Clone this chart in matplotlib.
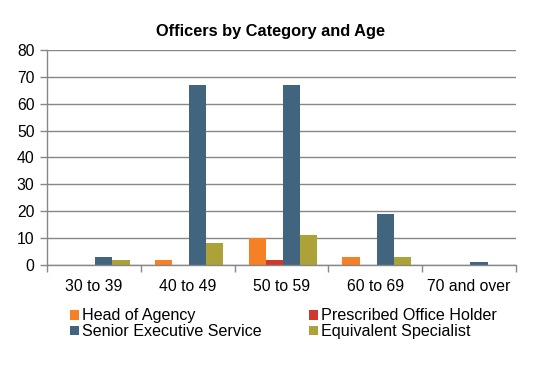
import matplotlib
matplotlib.use("Agg")
import matplotlib.pyplot as plt
import numpy as np

plt.rcParams['font.family'] = ['Liberation Sans', 'DejaVu Sans']

categories = ["30 to 39", "40 to 49", "50 to 59", "60 to 69", "70 and over"]
series_names = ["Head of Agency", "Prescribed Office Holder", "Senior Executive Service", "Equivalent Specialist"]
head_of_agency = [0, 2, 10, 3, 0]
prescribed_office_holder = [0, 0, 2, 0, 0]
senior_executive_service = [3, 67, 67, 19, 1]
equivalent_specialist = [2, 8, 11, 3, 0]
colors = ["#F58025", "#D0372D", "#41647F", "#ADA237"]

series = [head_of_agency, prescribed_office_holder, senior_executive_service, equivalent_specialist]

fig = plt.figure(figsize=(5.42, 3.67), dpi=100)
ax = fig.add_axes([0.0867, 0.278, 0.8653, 0.586])

x = np.arange(len(categories))
w = 0.183
handles = []
for i, (vals, name, c) in enumerate(zip(series, series_names, colors)):
    h = ax.bar(x + (i - 1.5) * w + 0.015, vals, width=w, color=c, label=name, zorder=3)
    handles.append(h)

ax.set_xlim(-0.5, len(categories) - 0.5)
ax.set_ylim(0, 80)
ax.set_yticks(range(0, 81, 10))
ax.set_xticks(x)
ax.set_xticklabels(categories)
ax.set_xticks(np.arange(-0.5, len(categories), 1), minor=True)
ax.tick_params(axis='x', which='major', length=0, pad=10, labelsize=11.3, colors='#000000')
ax.tick_params(axis='x', which='minor', length=5, color='#878787', width=1)
ax.tick_params(axis='y', length=5, color='#878787', width=1, labelsize=11.3, pad=4)
ax.grid(axis='y', color='#878787', linewidth=1, zorder=0)
for s in ['top', 'right']:
    ax.spines[s].set_visible(False)
for s in ['left', 'bottom']:
    ax.spines[s].set_color('#878787')
    ax.spines[s].set_linewidth(1)
    ax.spines[s].set_zorder(4)

fig.text(0.5, 0.915, "Officers by Category and Age", ha='center', va='center', fontsize=11.8, fontweight='bold')

order = [0, 2, 1, 3]
leg = fig.legend([handles[i] for i in order], [series_names[i] for i in order],
                 loc='upper left', bbox_to_anchor=(0.118, 0.177), ncol=2, frameon=False,
                 fontsize=11.6, handlelength=0.55, handleheight=0.55, handletextpad=0.2,
                 columnspacing=2.9, labelspacing=0.05, borderaxespad=0)

fig.savefig("out.png", dpi=100)
